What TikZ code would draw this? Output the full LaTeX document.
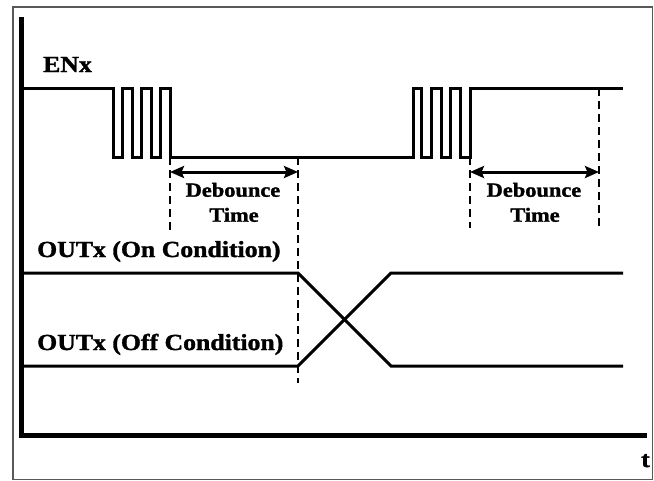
\documentclass[tikz,border=0pt]{standalone}
\usepackage{fontspec}
\setmainfont[FakeStretch=1.12,FakeBold=1.5]{Liberation Serif}
\usetikzlibrary{arrows.meta}
\begin{document}
\begin{tikzpicture}[x=1pt,y=-1pt,
  sig/.style={line width=3pt, line join=miter},
  axisline/.style={line width=5pt},
  dline/.style={line width=2.4pt, dash pattern=on 8pt off 5pt},
  dimarrow/.style={line width=3pt, {Stealth[length=14pt,width=12pt,inset=2.5pt]}-{Stealth[length=14pt,width=12pt,inset=2.5pt]}},
  lbl/.style={font=\bfseries\fontsize{23}{27}\selectfont, inner sep=0pt},
  dlbl/.style={font=\bfseries\fontsize{20}{24}\selectfont, inner sep=0pt}]
\useasboundingbox (0,0) rectangle (654,480);
\draw[gray!70!black, line width=1.2pt] (13,7) rectangle (652.5,479.5);
% axes
\coordinate (ytop) at (21,17);
\coordinate (orig) at (21,435);
\coordinate (xend) at (647,435);
\draw[axisline] (ytop) -- (orig) -- (xend);
\node[lbl, anchor=base east] (t) at (650,467) {t};
% ENx
\node[lbl, anchor=base west] (enx) at (43,72) {ENx};
\draw[sig] (21,88) -- (113,88) -- (113,157) -- (122.5,157) -- (122.5,88) -- (132,88) -- (132,157)
  -- (141.5,157) -- (141.5,88) -- (151,88) -- (151,157) -- (160.5,157) -- (160.5,88) -- (170,88)
  -- (170,157) -- (413,157) -- (413,88) -- (421.7,88) -- (421.7,157) -- (431.7,157) -- (431.7,88)
  -- (441.7,88) -- (441.7,157) -- (450.7,157) -- (450.7,88) -- (460.7,88) -- (460.7,157)
  -- (470,157) -- (470,88) -- (623,88);
% debounce markers
\coordinate (d1a) at (170,157); \coordinate (d1b) at (298,157);
\coordinate (d2a) at (470,157); \coordinate (d2b) at (599,88);
\draw[dline] (d1a) -- (170,230);
\draw[dline] (d1b) -- (298,383);
\draw[dline] (d2a) -- (470,228);
\draw[dline] (d2b) -- (599,228);
\draw[dimarrow] (170,172) -- (298,172);
\draw[dimarrow] (470,172) -- (599,172);
\node[dlbl, anchor=base] (db1) at (233,196.7) {Debounce};
\node[dlbl, anchor=base] (tm1) at (234,221.7) {Time};
\node[dlbl, anchor=base] (db2) at (534,196.7) {Debounce};
\node[dlbl, anchor=base] (tm2) at (535,221.7) {Time};
% OUTx
\node[lbl, anchor=base west] (on) at (37,257) {OUTx (On Condition)};
\node[lbl, anchor=base west] (off) at (37,350) {OUTx (Off Condition)};
\draw[sig] (21,273) -- (298,273) -- (391,366) -- (623,366);
\draw[sig] (21,366) -- (298,366) -- (391,273) -- (623,273);
\end{tikzpicture}
\end{document}
